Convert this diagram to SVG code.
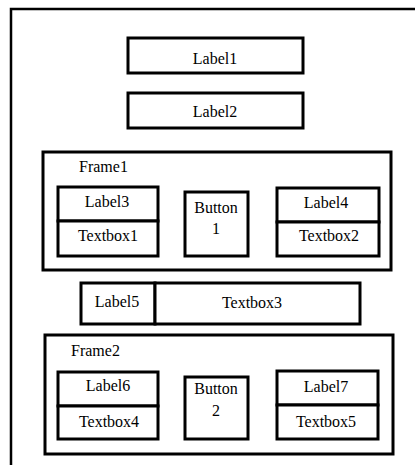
<svg xmlns="http://www.w3.org/2000/svg" width="415" height="465" viewBox="0 0 415 465">
<style>
.b{fill:#fff;stroke:#000;stroke-width:3}
.t{font-family:'Liberation Serif','Times New Roman',serif;font-size:16px;fill:#000;text-anchor:middle}
.l{text-anchor:start}
</style>
<rect width="415" height="465" fill="#fff"/>
<g id="window"><rect x="11" y="9" width="420" height="470" fill="none" stroke="#000" stroke-width="2.5"/></g>
<g id="label1"><rect class="b" x="128" y="38" width="175" height="35"/><text class="t" x="215" y="64">Label1</text></g>
<g id="label2"><rect class="b" x="128" y="93" width="175" height="35"/><text class="t" x="215" y="117">Label2</text></g>
<g id="frame1"><rect class="b" x="43" y="152" width="348" height="118"/><text class="t l" x="79" y="172">Frame1</text></g>
<g id="label3"><rect class="b" x="58" y="187" width="100" height="34"/><text class="t" x="107" y="207">Label3</text></g>
<g id="textbox1"><rect class="b" x="58" y="221" width="100" height="35"/><text class="t" x="108" y="241">Textbox1</text></g>
<g id="button1"><rect class="b" x="185" y="192" width="63" height="64"/><text class="t" x="216" y="213">Button</text><text class="t" x="216" y="234">1</text></g>
<g id="label4"><rect class="b" x="277" y="188" width="102" height="34"/><text class="t" x="326" y="208">Label4</text></g>
<g id="textbox2"><rect class="b" x="277" y="222" width="102" height="34"/><text class="t" x="329" y="241">Textbox2</text></g>
<g id="label5"><rect class="b" x="81" y="283" width="74" height="41"/><text class="t" x="117" y="307">Label5</text></g>
<g id="textbox3"><rect class="b" x="155" y="283" width="205" height="41"/><text class="t" x="252" y="308">Textbox3</text></g>
<g id="frame2"><rect class="b" x="45" y="335" width="348" height="119"/><text class="t l" x="71" y="356">Frame2</text></g>
<g id="label6"><rect class="b" x="58" y="372" width="100" height="34"/><text class="t" x="108" y="391">Label6</text></g>
<g id="textbox4"><rect class="b" x="58" y="406" width="100" height="33"/><text class="t" x="109" y="427">Textbox4</text></g>
<g id="button2"><rect class="b" x="185" y="377" width="63" height="62"/><text class="t" x="216" y="394">Button</text><text class="t" x="216" y="416">2</text></g>
<g id="label7"><rect class="b" x="277" y="371" width="101" height="34"/><text class="t" x="326" y="392">Label7</text></g>
<g id="textbox5"><rect class="b" x="277" y="405" width="101" height="34"/><text class="t" x="326" y="427">Textbox5</text></g>
<g id="connectors"></g>
</svg>
